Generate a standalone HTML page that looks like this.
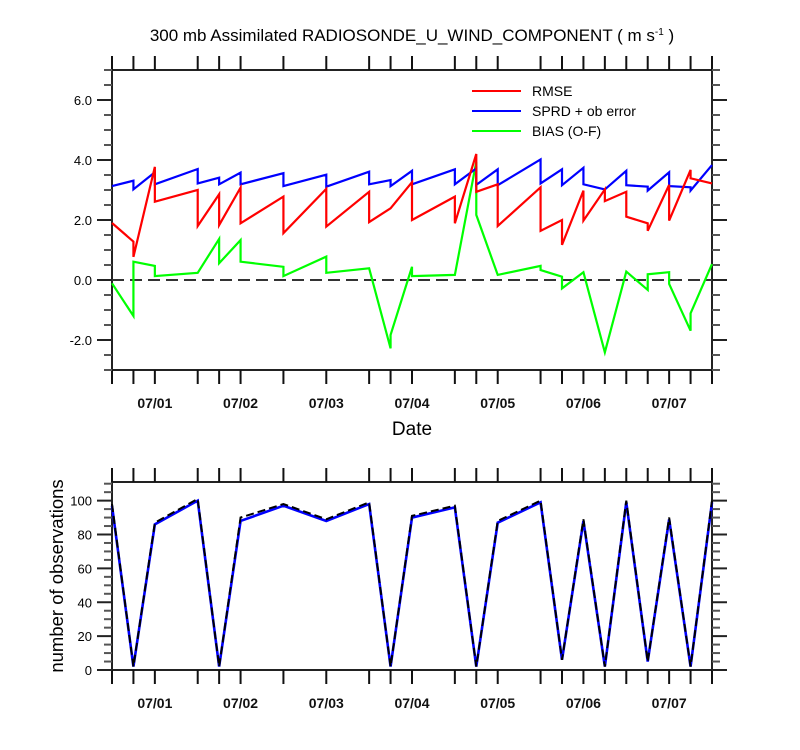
<!DOCTYPE html>
<html><head><meta charset="utf-8">
<style>
html,body{margin:0;padding:0;background:#fff;}
svg{display:block;font-family:"Liberation Sans",sans-serif;}
</style></head>
<body>
<svg id="chart" width="800" height="750" viewBox="0 0 800 750">
<text x="412" y="41" font-size="17" text-anchor="middle" fill="#000">300 mb Assimilated RADIOSONDE_U_WIND_COMPONENT ( m s<tspan dy="-6" font-size="10">-1</tspan><tspan dy="6"> )</tspan></text>
<g id="top"></g>
<g id="bot"></g>
<text x="412" y="435" font-size="19" text-anchor="middle">Date</text>
<text transform="translate(63,576) rotate(-90)" font-size="18.5" text-anchor="middle">number of observations</text>
<g>
<line x1="472" y1="91" x2="521" y2="91" stroke="#ff0000" stroke-width="2"/>
<text x="532" y="96" font-size="14">RMSE</text>
<line x1="472" y1="111" x2="521" y2="111" stroke="#0000ff" stroke-width="2"/>
<text x="532" y="116" font-size="14">SPRD + ob error</text>
<line x1="472" y1="131" x2="521" y2="131" stroke="#00ff00" stroke-width="2"/>
<text x="532" y="136" font-size="14">BIAS (O-F)</text>
</g>
</svg>
<script>
// time positions in 6-hour steps from 06/30 12Z
const tickTimes = [0,1,2,4,5,6,8,10,12,13,14,16,17,18,20,21,22,23,24,25,26,27,28];
const dateLabels = ["07/01","07/02","07/03","07/04","07/05","07/06","07/07"];
const dateTimes = [2,6,10,14,18,22,26];
const yTicksTop = [-2,0,2,4,6];
const yTicksBot = [0,20,40,60,80,100];
// [time, value] pairs (repeated time = vertical jump)
const rmse = [[0,1.9],[1,1.28],[1,0.77],[2,3.77],[2,2.61],[4,3.0],[4,1.8],[5,2.86],[5,1.83],[6,3.08],[6,1.89],[8,2.78],[8,1.56],[10,3.04],[10,1.78],[12,2.94],[12,1.93],[13,2.39],[14,3.26],[14,2.0],[16,2.78],[16,1.89],[17,4.2],[17,2.94],[18,3.19],[18,1.8],[20,3.09],[20,1.64],[21,2.0],[21,1.17],[22,2.98],[22,1.98],[23,3.02],[23,2.63],[24,2.94],[24,2.11],[25,1.89],[25,1.64],[26,3.17],[26,1.98],[27,3.67],[27,3.39],[28,3.22]];
const sprd = [[0,3.13],[1,3.31],[1,3.02],[2,3.59],[2,3.19],[4,3.7],[4,3.22],[5,3.41],[5,3.19],[6,3.58],[6,3.19],[8,3.56],[8,3.13],[10,3.51],[10,3.11],[12,3.61],[12,3.19],[13,3.33],[13,3.13],[14,3.64],[14,3.19],[16,3.69],[16,3.19],[17,3.72],[17,3.17],[18,3.69],[18,3.16],[20,4.02],[20,3.22],[21,3.69],[21,3.16],[22,3.74],[22,3.19],[23,3.02],[24,3.64],[24,3.16],[25,3.11],[25,2.98],[26,3.59],[26,3.13],[27,3.09],[27,2.98],[28,3.83]];
const bias = [[0,-0.11],[1,-1.2],[1,0.61],[2,0.47],[2,0.13],[4,0.24],[5,1.37],[5,0.56],[6,1.33],[6,0.61],[8,0.44],[8,0.13],[10,0.78],[10,0.24],[12,0.39],[13,-2.28],[13,-1.83],[14,0.44],[14,0.13],[16,0.17],[17,3.94],[17,2.17],[18,0.17],[20,0.47],[20,0.33],[21,0.11],[21,-0.28],[22,0.26],[23,-2.41],[24,0.28],[25,-0.33],[25,0.19],[26,0.26],[26,-0.13],[27,-1.69],[27,-1.11],[28,0.53]];
const obsTimes = [0,1,2,4,5,6,8,10,12,13,14,16,17,18,20,21,22,23,24,25,26,27,28];
const obsUsed = [97,2,86,100,2,88,97,88,98,2,90,96,2,87,99,6,88,2,99,5,89,2,99];
const obsTotal = [98,2,87,101,2,90,98,89,99,2,91,97,2,88,100,6,89,2,100,5,90,2,100];

const NS="http://www.w3.org/2000/svg";
const X0=112,X1=712;
const xs=t=>X0+(t/28)*(X1-X0);
const yTop=v=>280-30*v;
const B0=670,Bmax=111,B1=482;
const yBot=v=>B0-(v/Bmax)*(B0-B1);
function mk(tag,attrs,parent){const e=document.createElementNS(NS,tag);for(const k in attrs)e.setAttribute(k,attrs[k]);parent.appendChild(e);return e;}

function panel(g,top,bottom,yfn,yticks,ymin,ymax,minorStep,fmt,pfx){
  const f=mk('rect',{x:X0,y:top,width:X1-X0,height:bottom-top,fill:'none',stroke:'#222','stroke-width':2},g);
  
  
  tickTimes.forEach(t=>{
    const x=xs(t);
    const a=mk('line',{x1:x,y1:top,x2:x,y2:top-14,stroke:'#111','stroke-width':2},g);
    
    
    const b=mk('line',{x1:x,y1:bottom,x2:x,y2:bottom+14,stroke:'#111','stroke-width':2},g);
    
    
  });
  for(let v=ymin;v<=ymax+1e-9;v+=minorStep){
    const y=yfn(v);
    const maj=yticks.some(m=>Math.abs(m-v)<1e-6);
    const l=mk('line',{x1:X0,y1:y,x2:X0-(maj?15:8),y2:y,stroke:maj?'#222':'#555','stroke-width':2},g);
    
    
    const r=mk('line',{x1:X1,y1:y,x2:X1+(maj?15:8),y2:y,stroke:maj?'#222':'#555','stroke-width':2},g);
    
    
  }
  yticks.forEach(v=>{
    const t=mk('text',{x:X0-20,y:yfn(v)+5,'font-size':13,'text-anchor':'end'},g);
    t.textContent=fmt(v);
    
    
  });
  dateTimes.forEach((t,i)=>{
    const e=mk('text',{x:xs(t),y:bottom+38,'font-size':14,'font-weight':'bold','text-anchor':'middle',fill:'#111'},g);
    e.textContent=dateLabels[i];
    
    
  });
}
function line(g,pts,yfn,color,name,dash,w){
  const p=mk('polyline',{points:pts.map(([t,v])=>xs(t)+','+yfn(v)).join(' '),fill:'none',stroke:color,'stroke-width':w||2.2,'stroke-linejoin':'miter'},g);
  if(dash)p.setAttribute('stroke-dasharray',dash);
  
  
}
const gt=document.getElementById('top'),gb=document.getElementById('bot');
panel(gt,70,370,yTop,yTicksTop,-3,7,0.5,v=>v.toFixed(1),'top');
const z=mk('line',{x1:X0,y1:yTop(0),x2:X1,y2:yTop(0),stroke:'#333','stroke-width':2,'stroke-dasharray':'12 6'},gt);


line(gt,bias,yTop,'#00ff00','bias-line');
line(gt,sprd,yTop,'#0000ff','sprd-line');
line(gt,rmse,yTop,'#ff0000','rmse-line');
panel(gb,B1,B0,yBot,yTicksBot,0,110,5,v=>String(v),'bottom');
line(gb,obsTimes.map((t,i)=>[t,obsUsed[i]]),yBot,'#0000ff','obs-used-line',null,2.6);
line(gb,obsTimes.map((t,i)=>[t,obsTotal[i]]),yBot,'#000','obs-total-line','8 4',2);
</script>
</body></html>
